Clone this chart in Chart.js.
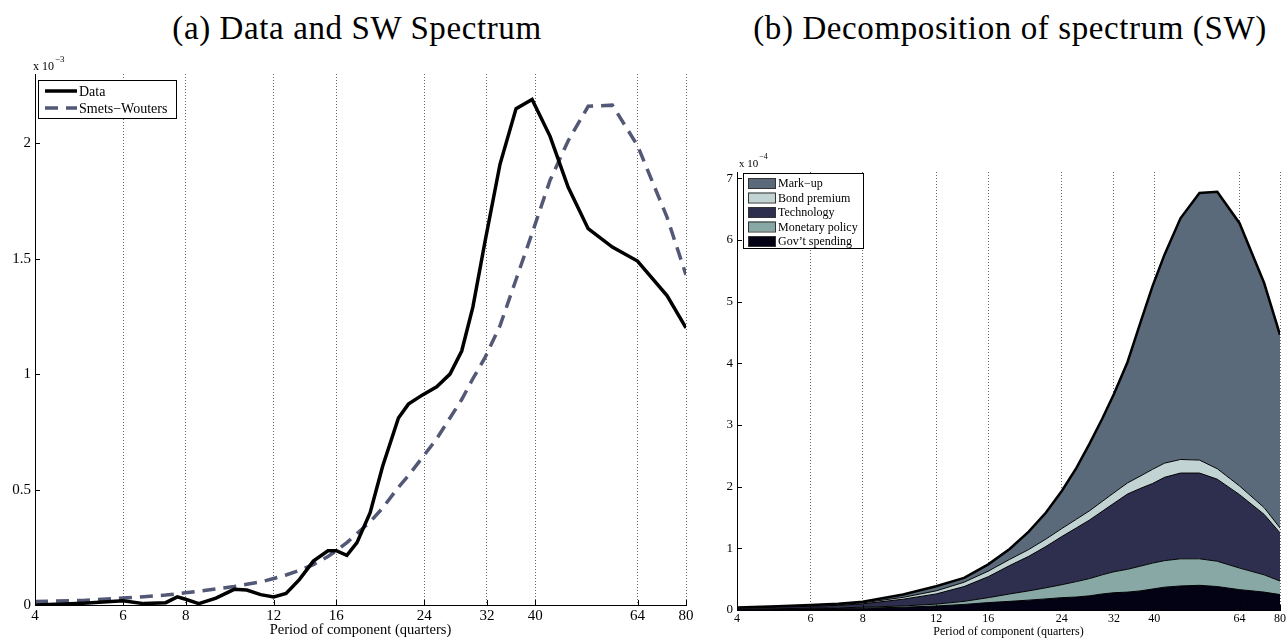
<!DOCTYPE html>
<html>
<head>
<meta charset="utf-8">
<script src="https://cdn.jsdelivr.net/npm/chart.js@4.4.1/dist/chart.umd.min.js"></script>
<style>
  html, body { margin: 0; padding: 0; background: #fff; overflow: hidden; }
  #wrap { position: relative; width: 1288px; height: 639px; }
  .ttl { position: absolute; top: 10px; line-height: 36px; font-family: 'Liberation Serif', serif; font-size: 33px; letter-spacing: 0.6px; color: #000; white-space: nowrap; transform: translateX(-50%); }
  canvas { position: absolute; top: 0; }
</style>
</head>
<body>
<div id="wrap">
  <div class="ttl" style="left:357px">(a) Data and SW Spectrum</div>
  <div class="ttl" style="left:1010px">(b) Decomposition of spectrum (SW)</div>
  <canvas id="left" width="700" height="639" style="left:0"></canvas>
  <canvas id="right" width="588" height="639" style="left:700px"></canvas>
</div>
<script>
// x ticks (period in quarters), same for both panels
const periodTicks = [4, 6, 8, 12, 16, 24, 32, 40, 64, 80];

// panel (a): spectrum, units of 1e-3
const periodsA = [4, 5, 6, 6.6, 7.3, 7.7, 8, 8.5, 9.2, 10, 10.6, 11.3, 12, 12.7, 13.5, 14.4, 15.4, 16, 16.8, 17.6,
  18.7, 19.8, 21.3, 22.3, 23.8, 25.4, 27, 28.5, 30, 31.7, 34, 36.6, 39.4, 42.8, 46.5, 51, 57, 64, 73.3, 80];
const dataSpec = [0.0, 0.008, 0.018, 0.006, 0.01, 0.035, 0.025, 0.006, 0.03, 0.068, 0.065, 0.045, 0.035, 0.05, 0.11, 0.19, 0.235, 0.235, 0.215, 0.27,
  0.40, 0.60, 0.81, 0.87, 0.91, 0.945, 1.0, 1.10, 1.29, 1.57, 1.91, 2.15, 2.19, 2.03, 1.81, 1.63, 1.55, 1.49, 1.34, 1.20];
const swSpec = [0.015, 0.02, 0.03, 0.036, 0.043, 0.048, 0.053, 0.06, 0.07, 0.08, 0.09, 0.10, 0.115, 0.13, 0.15, 0.175, 0.21, 0.235, 0.27, 0.31,
  0.36, 0.42, 0.51, 0.56, 0.64, 0.72, 0.81, 0.89, 0.98, 1.07, 1.21, 1.41, 1.61, 1.84, 2.01, 2.16, 2.165, 1.99, 1.68, 1.43];

// panel (b): contributions to the SW spectrum, units of 1e-4 (stacked bottom to top)
const periodsB = [4, 5, 6, 7, 8, 10, 12, 14, 16, 18, 20, 22, 24, 26, 28, 30, 32, 34.5, 37, 39.6, 42.3, 46.2, 51.3, 56.6, 64, 73.3, 80];
const govSpending = [0.01, 0.015, 0.02, 0.025, 0.03, 0.045, 0.065, 0.09, 0.12, 0.14, 0.16, 0.18, 0.20, 0.21, 0.23, 0.26, 0.28, 0.29, 0.31, 0.34, 0.37, 0.39, 0.40, 0.38, 0.33, 0.29, 0.25];
const monetary = [0.005, 0.005, 0.01, 0.01, 0.015, 0.02, 0.03, 0.05, 0.08, 0.12, 0.15, 0.18, 0.21, 0.25, 0.28, 0.31, 0.34, 0.37, 0.40, 0.42, 0.43, 0.44, 0.43, 0.41, 0.35, 0.28, 0.22];
const technology = [0.015, 0.025, 0.03, 0.04, 0.055, 0.11, 0.165, 0.24, 0.34, 0.46, 0.56, 0.67, 0.78, 0.87, 0.95, 1.03, 1.11, 1.22, 1.26, 1.29, 1.35, 1.39, 1.39, 1.33, 1.19, 0.98, 0.78];
const bondPremium = [0.005, 0.005, 0.01, 0.01, 0.015, 0.03, 0.05, 0.07, 0.09, 0.10, 0.11, 0.12, 0.13, 0.14, 0.15, 0.16, 0.17, 0.18, 0.20, 0.23, 0.23, 0.22, 0.21, 0.17, 0.14, 0.11, 0.08];
const markup = [0.005, 0.01, 0.01, 0.015, 0.02, 0.045, 0.075, 0.07, 0.11, 0.17, 0.29, 0.43, 0.61, 0.83, 1.09, 1.34, 1.60, 1.96, 2.48, 2.97, 3.38, 3.91, 4.33, 4.49, 4.26, 3.64, 3.13];

const serif = 'Liberation Serif';
const pts = (xs, ys) => xs.map((x, i) => ({ x: x, y: ys[i] }));

// matlab style ticks pointing into the plot
const inwardTicks = {
  id: 'inwardTicks',
  afterDatasetsDraw(chart) {
    const { ctx, chartArea, scales } = chart;
    ctx.save();
    ctx.strokeStyle = '#000';
    ctx.lineWidth = 1;
    ctx.beginPath();
    scales.x.ticks.forEach(t => {
      const x = Math.round(scales.x.getPixelForValue(t.value)) + 0.5;
      ctx.moveTo(x, chartArea.bottom);
      ctx.lineTo(x, chartArea.bottom - 5);
    });
    scales.y.ticks.forEach(t => {
      const y = Math.round(scales.y.getPixelForValue(t.value)) + 0.5;
      ctx.moveTo(chartArea.left, y);
      ctx.lineTo(chartArea.left + 5, y);
    });
    ctx.stroke();
    ctx.restore();
  }
};

// legend box inside the plot + the "x 10^n" multiplier
const boxLegend = {
  id: 'boxLegend',
  afterDraw(chart, args, o) {
    const ctx = chart.ctx;
    ctx.save();
    ctx.fillStyle = '#000';
    ctx.textBaseline = 'alphabetic';
    ctx.font = o.expoSize + 'px "' + serif + '"';
    ctx.fillText('x 10', o.expoX, o.expoY);
    const w = ctx.measureText('x 10').width;
    ctx.font = (o.expoSize - 3) + 'px "' + serif + '"';
    ctx.fillText(o.expo, o.expoX + w + 1, o.expoY - 8);

    ctx.fillStyle = '#fff';
    ctx.fillRect(o.x, o.y, o.w, o.h);
    ctx.strokeStyle = '#000';
    ctx.lineWidth = 1;
    ctx.strokeRect(o.x + 0.5, o.y + 0.5, o.w, o.h);

    ctx.font = o.fontSize + 'px "' + serif + '"';
    ctx.textBaseline = 'middle';
    o.items.forEach((idx, i) => {
      const ds = chart.data.datasets[idx];
      const ry = o.y + o.first + i * o.step;
      if (o.kind === 'line') {
        ctx.strokeStyle = ds.borderColor;
        ctx.lineWidth = ds.borderWidth;
        ctx.setLineDash(ds.borderDash || []);
        ctx.beginPath();
        ctx.moveTo(o.x + 7, ry);
        ctx.lineTo(o.x + 39, ry);
        ctx.stroke();
        ctx.setLineDash([]);
      } else {
        ctx.fillStyle = ds.backgroundColor;
        ctx.fillRect(o.x + 5, ry - 5, 27, 10);
        ctx.strokeStyle = '#333';
        ctx.lineWidth = 1;
        ctx.strokeRect(o.x + 5.5, ry - 4.5, 27, 10);
      }
      ctx.fillStyle = '#000';
      ctx.fillText(ds.label, o.x + o.textX, ry + 1);
    });
    ctx.restore();
  }
};

const xScale = (fontSize, titleSize, height) => ({
  type: 'logarithmic',
  min: 4,
  max: 80,
  afterBuildTicks: s => { s.ticks = periodTicks.map(v => ({ value: v })); },
  afterFit: s => { s.height = height; },
  ticks: { callback: v => String(v), font: { family: serif, size: fontSize }, color: '#000', padding: 2, maxRotation: 0, autoSkip: false },
  grid: { color: c => (c.tick && c.tick.value === 4 ? 'rgba(0,0,0,0)' : '#666'), lineWidth: 1, drawTicks: false },
  border: { display: true, color: '#000', width: 1, dash: [1, 2] },
  title: { display: true, text: 'Period of component (quarters)', font: { family: serif, size: titleSize }, color: '#000', padding: 0 }
});

new Chart(document.getElementById('left'), {
  type: 'line',
  data: {
    datasets: [
      { label: 'Data', data: pts(periodsA, dataSpec), borderColor: '#000', borderWidth: 3.5, pointRadius: 0, tension: 0, fill: false },
      { label: 'Smets−Wouters', data: pts(periodsA, swSpec), borderColor: '#525875', borderWidth: 3.5, borderDash: [13, 8], pointRadius: 0, tension: 0, fill: false }
    ]
  },
  options: {
    responsive: false,
    animation: false,
    layout: { padding: { top: 74, right: 14, left: 0, bottom: 0 } },
    plugins: {
      legend: { display: false },
      tooltip: { enabled: false },
      boxLegend: { x: 38, y: 80, w: 138, h: 38, first: 11, step: 17, kind: 'line', textX: 41, fontSize: 14, items: [0, 1], expo: '−3', expoX: 33, expoY: 70, expoSize: 12 }
    },
    scales: {
      x: xScale(15, 14.5, 34),
      y: {
        min: 0, max: 2.3,
        afterFit: s => { s.width = 35; },
        ticks: { stepSize: 0.5, includeBounds: false, callback: v => String(v), font: { family: serif, size: 15 }, color: '#000', padding: 4 },
        grid: { drawOnChartArea: false, drawTicks: false },
        border: { color: '#000', width: 1 }
      }
    }
  },
  plugins: [inwardTicks, boxLegend]
});

const layer = (label, values, color, first, width) => ({
  label: label,
  data: pts(periodsB, values),
  backgroundColor: color,
  borderColor: '#000',
  borderWidth: width,
  pointRadius: 0,
  tension: 0,
  fill: first ? 'origin' : '-1'
});

new Chart(document.getElementById('right'), {
  type: 'line',
  data: {
    datasets: [
      layer('Gov’t spending', govSpending, '#020214', true, 1),
      layer('Monetary policy', monetary, '#87a8a5', false, 1),
      layer('Technology', technology, '#2e2e4e', false, 1),
      layer('Bond premium', bondPremium, '#c2d3d3', false, 1),
      layer('Mark−up', markup, '#5b6a7a', false, 2.5)
    ]
  },
  options: {
    responsive: false,
    animation: false,
    layout: { padding: { top: 172, right: 5, left: 0, bottom: 0 } },
    plugins: {
      legend: { display: false },
      tooltip: { enabled: false },
      boxLegend: { x: 43, y: 173, w: 120, h: 75, first: 10, step: 14.5, kind: 'patch', textX: 35, fontSize: 12, items: [4, 3, 2, 1, 0], expo: '−4', expoX: 39, expoY: 167, expoSize: 11 }
    },
    scales: {
      x: xScale(12, 12, 29),
      y: {
        stacked: true,
        min: 0, max: 7.1,
        afterFit: s => { s.width = 37; },
        ticks: { stepSize: 1, includeBounds: false, font: { family: serif, size: 13 }, color: '#000', padding: 4 },
        grid: { drawOnChartArea: false, drawTicks: false },
        border: { color: '#000', width: 1 }
      }
    }
  },
  plugins: [inwardTicks, boxLegend]
});
</script>
</body>
</html>
